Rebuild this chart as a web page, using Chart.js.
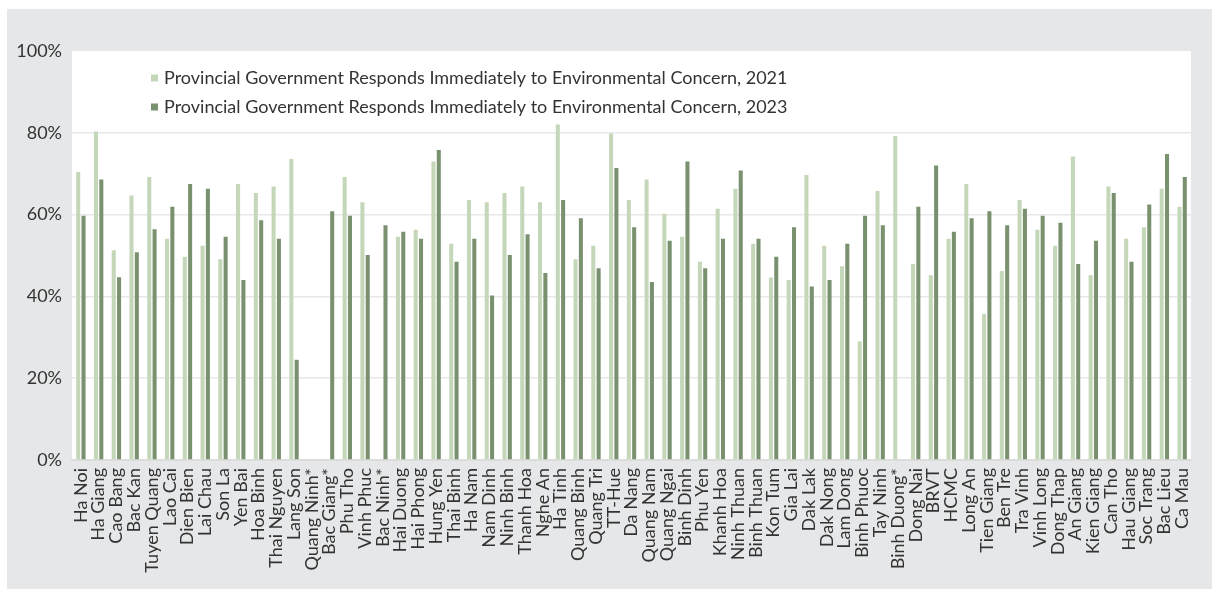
<!DOCTYPE html>
<html>
<head>
<meta charset="utf-8">
<script src="https://cdn.jsdelivr.net/npm/chart.js@4.4.1/dist/chart.umd.min.js"></script>
<style>
  html, body { margin: 0; padding: 0; background: #ffffff; }
  #wrap { width: 1212px; height: 589px; position: relative; }
</style>
</head>
<body>
<div id="wrap"><canvas id="chart" width="1212" height="589"></canvas></div>
<script>
// Provinces, in the order they are plotted
const provinces = [
  "Ha Noi", "Ha Giang", "Cao Bang", "Bac Kan", "Tuyen Quang", "Lao Cai", "Dien Bien",
  "Lai Chau", "Son La", "Yen Bai", "Hoa Binh", "Thai Nguyen", "Lang Son", "Quang Ninh*",
  "Bac Giang*", "Phu Tho", "Vinh Phuc", "Bac Ninh*", "Hai Duong", "Hai Phong", "Hung Yen",
  "Thai Binh", "Ha Nam", "Nam Dinh", "Ninh Binh", "Thanh Hoa", "Nghe An", "Ha Tinh",
  "Quang Binh", "Quang Tri", "TT-Hue", "Da Nang", "Quang Nam", "Quang Ngai", "Binh Dinh",
  "Phu Yen", "Khanh Hoa", "Ninh Thuan", "Binh Thuan", "Kon Tum", "Gia Lai", "Dak Lak",
  "Dak Nong", "Lam Dong", "Binh Phuoc", "Tay Ninh", "Binh Duong*", "Dong Nai", "BRVT",
  "HCMC", "Long An", "Tien Giang", "Ben Tre", "Tra Vinh", "Vinh Long", "Dong Thap",
  "An Giang", "Kien Giang", "Can Tho", "Hau Giang", "Soc Trang", "Bac Lieu", "Ca Mau"
];

// Share of respondents (%), 2021 survey
const responds2021 = [
  70.4, 80.3, 51.3, 64.7, 69.2, 54.1, 49.7, 52.4, 49.1, 67.5, 65.3, 66.9, 73.6, null,
  null, 69.2, 63.0, null, 54.6, 56.3, 73.0, 52.9, 63.6, 63.0, 65.3, 66.9, 63.0, 82.0,
  49.1, 52.4, 79.8, 63.6, 68.6, 60.2, 54.6, 48.5, 61.4, 66.3, 52.9, 44.6, 44.0, 69.7,
  52.4, 47.4, 29.0, 65.8, 79.2, 47.9, 45.2, 54.1, 67.5, 35.7, 46.2, 63.6, 56.3, 52.4,
  74.2, 45.2, 66.9, 54.1, 56.9, 66.3, 61.9
];

// Share of respondents (%), 2023 survey
const responds2023 = [
  59.7, 68.6, 44.7, 50.8, 56.4, 61.9, 67.5, 66.3, 54.6, 44.0, 58.6, 54.1, 24.5, null,
  60.8, 59.7, 50.1, 57.4, 55.8, 54.1, 75.8, 48.5, 54.1, 40.2, 50.1, 55.2, 45.7, 63.6,
  59.1, 46.9, 71.4, 56.9, 43.5, 53.6, 73.0, 46.9, 54.1, 70.8, 54.1, 49.7, 56.9, 42.4,
  44.0, 52.9, 59.7, 57.4, null, 61.9, 72.0, 55.8, 59.1, 60.8, 57.4, 61.4, 59.7, 58.0,
  47.9, 53.6, 65.3, 48.5, 62.5, 74.8, 69.2
];

const seriesNames = [
  "Provincial Government Responds Immediately to Environmental Concern, 2021",
  "Provincial Government Responds Immediately to Environmental Concern, 2023"
];

const yTicks = [0, 20, 40, 60, 80, 100];

const LIGHT = "#c5d7b9";
const DARK = "#7a9170";
const TEXT = "#333333";
const FONT = "Lato";

// Grey panel behind everything, white plotting field
const backdrop = {
  id: "backdrop",
  beforeDraw(chart) {
    const { ctx, chartArea: a } = chart;
    ctx.save();
    ctx.fillStyle = "#e6e7e8";
    ctx.fillRect(7, 9, chart.width - 7, chart.height - 9);
    ctx.fillStyle = "#ffffff";
    ctx.fillRect(a.left, a.top, a.right - a.left, a.bottom - a.top);
    ctx.restore();
  }
};

// Two-line legend sitting inside the plotting field
const insetLegend = {
  id: "insetLegend",
  afterDraw(chart) {
    const { ctx } = chart;
    ctx.save();
    ctx.font = "18px " + FONT;
    ctx.textBaseline = "middle";
    ctx.textAlign = "left";
    chart.data.datasets.forEach((ds, i) => {
      const y = 78 + i * 29;
      ctx.fillStyle = ds.backgroundColor;
      ctx.fillRect(151, y - 3.5, 7, 7);
      ctx.fillStyle = TEXT;
      ctx.fillText(ds.label, 164, y);
    });
    ctx.restore();
  }
};

new Chart(document.getElementById("chart"), {
  type: "bar",
  data: {
    labels: provinces,
    datasets: [
      { label: seriesNames[0], data: responds2021, backgroundColor: LIGHT },
      { label: seriesNames[1], data: responds2023, backgroundColor: DARK }
    ]
  },
  options: {
    responsive: false,
    animation: false,
    layout: { padding: { top: 51, right: 21, left: 0, bottom: 0 } },
    datasets: { bar: { categoryPercentage: 0.6, barPercentage: 0.76 } },
    plugins: { legend: { display: false }, tooltip: { enabled: false } },
    scales: {
      x: {
        grid: { display: false, drawTicks: false },
        border: { display: true, color: "#dcdcdc", width: 2 },
        ticks: {
          autoSkip: false, minRotation: 90, maxRotation: 90, padding: 8,
          color: TEXT, font: { family: FONT, size: 18 }
        },
        afterFit(scale) { scale.height = 129; }
      },
      y: {
        min: 0, max: 100,
        afterBuildTicks(scale) { scale.ticks = yTicks.map(v => ({ value: v })); },
        grid: {
          drawTicks: false, lineWidth: 1.5,
          color: ctx => (ctx.tick && ctx.tick.value === 100) ? "rgba(0,0,0,0)" : "#e8e8e8"
        },
        border: { display: false },
        ticks: {
          padding: 10, color: TEXT, font: { family: FONT, size: 18 },
          callback: v => v + "%"
        },
        afterFit(scale) { scale.width = 72; }
      }
    }
  },
  plugins: [backdrop, insetLegend]
});
</script>
</body>
</html>
